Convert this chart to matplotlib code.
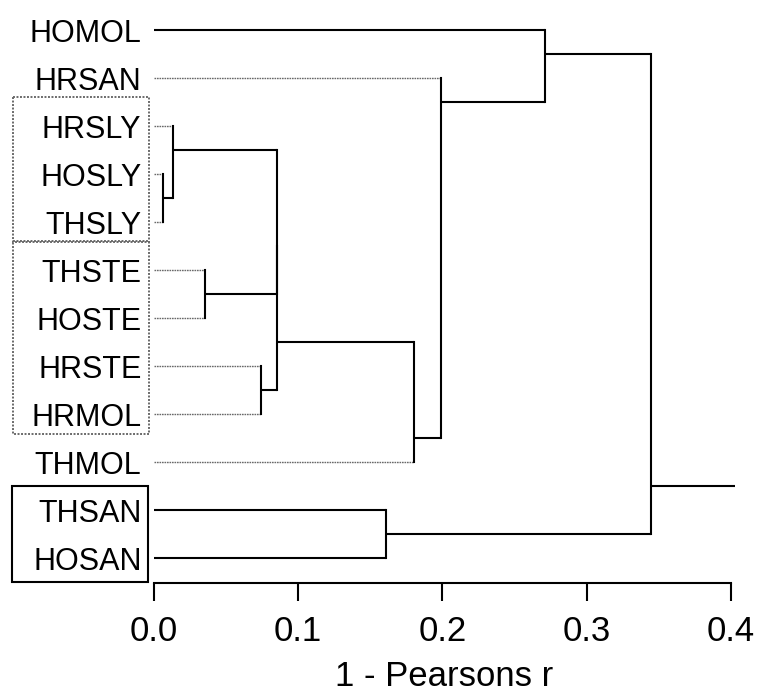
import matplotlib
matplotlib.use('Agg')
import matplotlib.pyplot as plt
import matplotlib.transforms as mtransforms
from matplotlib.patches import Rectangle

# ---------------- data ----------------
labels = ['HOMOL', 'HRSAN', 'HRSLY', 'HOSLY', 'THSLY', 'THSTE',
          'HOSTE', 'HRSTE', 'HRMOL', 'THMOL', 'THSAN', 'HOSAN']
# merges (linkage style): leaves are 0..11, merge k creates node 12+k
merge_left = [3, 2, 5, 7, 13, 16, 17, 1, 0, 10, 20]
merge_right = [4, 12, 6, 8, 14, 15, 9, 18, 19, 11, 21]
merge_height = [0.0064, 0.0132, 0.0354, 0.0740, 0.0850, 0.0856,
                0.1800, 0.1990, 0.2710, 0.1606, 0.3443]
x_ticks = [0.0, 0.1, 0.2, 0.3, 0.4]
x_tick_labels = ['0.0', '0.1', '0.2', '0.3', '0.4']
x_label = '1 - Pearsons r'
# leaf groups that are boxed (first leaf, last leaf)
box_groups = [(2, 4), (5, 8), (10, 11)]

# ---------------- styles ----------------
plt.rcParams['font.family'] = ['Liberation Sans', 'DejaVu Sans']
FS = 22
FS_AX = 25
LW = 1.5
faint_leaves = set(range(1, 10))
box_styles = ['dotted', 'dotted', 'solid']

W, H = 760, 692
fig = plt.figure(figsize=(W / 100, H / 100), dpi=100)
ax = fig.add_axes([154 / W, 1 - 583 / H, 581 / W, 577 / H])
ax.set_xlim(0, 0.4028)
ax.set_ylim(11.52, -0.5)

n = len(labels)
pos = {i: float(i) for i in range(n)}
height = {i: 0.0 for i in range(n)}
span = {i: (i, i) for i in range(n)}
for k, (l, r, h) in enumerate(zip(merge_left, merge_right, merge_height)):
    node = n + k
    span[node] = (min(span[l][0], span[r][0]), max(span[l][1], span[r][1]))
    pos[node] = span[l][1] + 0.5
    height[node] = h
    for c in (l, r):
        if c < n and c in faint_leaves:
            ax.plot([height[c], h], [pos[c], pos[c]], color='#6a6a6a',
                    lw=1.0, linestyle=(0, (1.2, 0.6)), solid_capstyle='butt',
                    clip_on=False)
        else:
            ax.plot([height[c], h], [pos[c], pos[c]], color='black',
                    lw=LW, solid_capstyle='butt', clip_on=False)
    ax.plot([h, h], [pos[l], pos[r]], color='black', lw=LW,
            solid_capstyle='projecting', clip_on=False)

root = n + len(merge_height) - 1
ax.plot([height[root], ax.get_xlim()[1]], [pos[root], pos[root]],
        color='black', lw=LW, solid_capstyle='butt', clip_on=False)

# axes styling (R-like)
for s in ('left', 'top', 'right'):
    ax.spines[s].set_visible(False)
ax.spines['bottom'].set_bounds(x_ticks[0], x_ticks[-1])
ax.spines['bottom'].set_linewidth(LW)
ax.set_xticks(x_ticks)
ax.set_xticklabels(x_tick_labels, fontsize=FS_AX)
ax.tick_params(axis='x', length=13, width=LW, pad=10, direction='out')
ax.set_xlabel(x_label, fontsize=FS_AX, labelpad=9)
ax.set_yticks(range(n))
ax.set_yticklabels(labels, fontsize=FS)
ax.tick_params(axis='y', length=0, pad=9)

# group boxes
trans = mtransforms.blended_transform_factory(fig.transFigure, ax.transData)
for (a, b), st in zip(box_groups, box_styles):
    if st == 'dotted':
        rect = Rectangle((13 / W, a - 0.6), 136 / W, (b - a) + 1.02,
                         transform=trans, fill=False, edgecolor='#6a6a6a',
                         lw=1.4, linestyle=(0, (1, 0.8)), clip_on=False)
    else:
        rect = Rectangle((12 / W, a - 0.5), 136 / W, (b - a) + 1.0,
                         transform=trans, fill=False, edgecolor='black',
                         lw=LW, clip_on=False)
    fig.add_artist(rect)

fig.savefig('out.png', dpi=100)
